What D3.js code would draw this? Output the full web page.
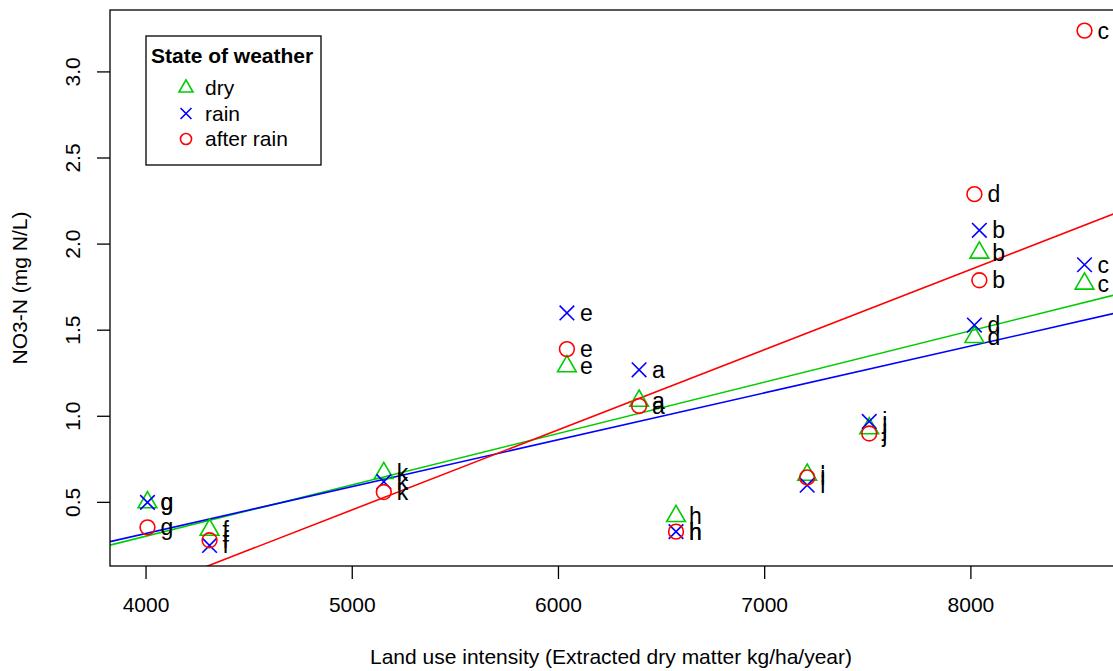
<!DOCTYPE html>
<html>
<head>
<meta charset="utf-8">
<script src="https://cdn.jsdelivr.net/npm/d3@7"></script>
<style>
  body { margin: 0; background: #fff; }
  text { font-family: "Liberation Sans", Arial, sans-serif; }
</style>
</head>
<body>
<svg id="chart"></svg>
<script>
'use strict';

// sites and their land use intensity (kg/ha/year)
const sites = ['a', 'b', 'c', 'd', 'e', 'f', 'g', 'h', 'i', 'j', 'k'];
const intensity = [6391, 8041, 8551, 8017, 6041, 4308, 4007, 6570, 7206, 7507, 5153];

// NO3-N (mg N/L) per state of weather, same order as sites
const dry = [1.09, 1.95, 1.77, 1.46, 1.29, 0.34, 0.50, 0.42, 0.66, 0.93, 0.67];
const rain = [1.27, 2.08, 1.88, 1.53, 1.60, 0.25, 0.50, 0.33, 0.60, 0.97, 0.62];
const afterRain = [1.06, 1.79, 3.24, 2.29, 1.39, 0.28, 0.355, 0.33, 0.645, 0.90, 0.56];

const states = ['dry', 'rain', 'after rain'];
const stateValues = [dry, rain, afterRain];
const stateColors = ['#00CD00', '#0000FF', '#FF0000'];
const stateShapes = ['triangle', 'cross', 'circle'];
// the original plot coloured the dry fit blue and the rain fit green
const fitOrder = [1, 0, 2];
const fitColors = ['#00CD00', '#0000FF', '#FF0000'];

const xTicks = [4000, 5000, 6000, 7000, 8000];
const yTicks = [0.5, 1.0, 1.5, 2.0, 2.5, 3.0];

const width = 1113;
const height = 671;
const margin = {top: 10, left: 110};
const plotW = 1012;
const plotH = 556;

const svg = d3.select('#chart')
    .attr('width', width)
    .attr('height', height);

// R style axis range: data range plus 4% on each side
function padded(values) {
  const ext = d3.extent(values);
  const r = ext[1] - ext[0];
  return [ext[0] - 0.04 * r, ext[1] + 0.04 * r];
}

const x = d3.scaleLinear()
    .domain(padded(intensity))
    .range([margin.left, margin.left + plotW]);
const y = d3.scaleLinear()
    .domain(padded([].concat(dry, rain, afterRain)))
    .range([margin.top + plotH, margin.top]);

svg.append('clipPath').attr('id', 'plotclip')
    .append('rect')
    .attr('x', margin.left).attr('y', margin.top)
    .attr('width', plotW).attr('height', plotH);

// least squares fit
function fit(xs, ys) {
  const mx = d3.mean(xs);
  const my = d3.mean(ys);
  let sxy = 0, sxx = 0;
  xs.forEach((v, i) => {
    sxy += (v - mx) * (ys[i] - my);
    sxx += (v - mx) * (v - mx);
  });
  const b = sxy / sxx;
  return {a: my - b * mx, b: b};
}

const lines = svg.append('g').attr('clip-path', 'url(#plotclip)');
fitOrder.forEach((s, k) => {
  const f = fit(intensity, stateValues[s]);
  const d0 = x.domain();
  lines.append('line')
      .attr('x1', x(d0[0]))
      .attr('y1', y(f.a + f.b * d0[0]))
      .attr('x2', x(d0[1]))
      .attr('y2', y(f.a + f.b * d0[1]))
      .attr('stroke', fitColors[k])
      .attr('stroke-width', 1.6);
});

function drawSymbol(g, shape, cx, cy, color, size) {
  const k = size || 1;
  if (shape === 'triangle') {
    const w = 9.35 * k;
    const h = 16.2 * k;
    g.append('path')
        .attr('d', 'M' + cx + ',' + (cy - h * 2 / 3) +
          'L' + (cx + w) + ',' + (cy + h / 3) +
          'L' + (cx - w) + ',' + (cy + h / 3) + 'Z')
        .attr('fill', 'none')
        .attr('stroke', color)
        .attr('stroke-width', 1.6);
  } else if (shape === 'cross') {
    const r = 7.3 * k;
    g.append('path')
        .attr('d', 'M' + (cx - r) + ',' + (cy - r) + 'L' + (cx + r) + ',' + (cy + r) +
          'M' + (cx - r) + ',' + (cy + r) + 'L' + (cx + r) + ',' + (cy - r))
        .attr('fill', 'none')
        .attr('stroke', color)
        .attr('stroke-width', 1.6);
  } else {
    g.append('circle')
        .attr('cx', cx).attr('cy', cy)
        .attr('r', 7.4 * k)
        .attr('fill', 'none')
        .attr('stroke', color)
        .attr('stroke-width', 1.6);
  }
}

const points = svg.append('g');
stateValues.forEach((vals, s) => {
  vals.forEach((v, i) => {
    drawSymbol(points, stateShapes[s], x(intensity[i]), y(v), stateColors[s]);
  });
});
stateValues.forEach((vals) => {
  vals.forEach((v, i) => {
    points.append('text')
        .attr('x', x(intensity[i]) + 13)
        .attr('y', y(v))
        .attr('dy', '0.35em')
        .style('font-size', '23px')
        .attr('fill', '#000')
        .text(sites[i]);
  });
});

// frame (right side falls outside the picture)
svg.append('rect')
    .attr('x', margin.left).attr('y', margin.top)
    .attr('width', plotW).attr('height', plotH)
    .attr('fill', 'none')
    .attr('stroke', '#000')
    .attr('stroke-width', 1.3);

const xAxis = svg.append('g');
xTicks.forEach((t) => {
  xAxis.append('line')
      .attr('x1', x(t)).attr('x2', x(t))
      .attr('y1', margin.top + plotH).attr('y2', margin.top + plotH + 13)
      .attr('stroke', '#000').attr('stroke-width', 1.3);
  xAxis.append('text')
      .attr('x', x(t)).attr('y', 612)
      .style('text-anchor', 'middle')
      .style('font-size', '21px')
      .text(t);
});

const yAxis = svg.append('g');
yTicks.forEach((t) => {
  yAxis.append('line')
      .attr('x1', margin.left).attr('x2', margin.left - 13)
      .attr('y1', y(t)).attr('y2', y(t))
      .attr('stroke', '#000').attr('stroke-width', 1.3);
  yAxis.append('text')
      .attr('transform', 'translate(80,' + y(t) + ') rotate(-90)')
      .style('text-anchor', 'middle')
      .style('font-size', '21px')
      .text(t.toFixed(1));
});

svg.append('text')
    .attr('x', margin.left + plotW / 2 - 5).attr('y', 664)
    .style('text-anchor', 'middle')
    .style('font-size', '21px')
    .text('Land use intensity (Extracted dry matter kg/ha/year)');
svg.append('text')
    .attr('transform', 'translate(27,' + (margin.top + plotH / 2) + ') rotate(-90)')
    .style('text-anchor', 'middle')
    .style('font-size', '21px')
    .text('NO3-N (mg N/L)');

// legend
const legend = svg.append('g');
legend.append('rect')
    .attr('x', 146).attr('y', 36)
    .attr('width', 175).attr('height', 129)
    .attr('fill', '#fff')
    .attr('stroke', '#000')
    .attr('stroke-width', 1.3);
legend.append('text')
    .attr('x', 151).attr('y', 63)
    .style('font-size', '21px')
    .style('font-weight', 'bold')
    .text('State of weather');
states.forEach((name, s) => {
  const ly = 88 + s * 25.5;
  drawSymbol(legend, stateShapes[s], 186, ly, stateColors[s], 0.75);
  legend.append('text')
      .attr('x', 205).attr('y', ly)
      .attr('dy', '0.35em')
      .style('font-size', '21px')
      .text(name);
});
</script>
</body>
</html>
